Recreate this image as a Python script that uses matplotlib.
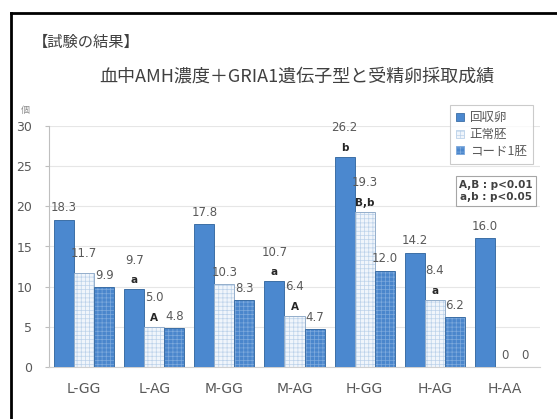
import matplotlib
matplotlib.use("Agg")
import matplotlib.pyplot as plt
from matplotlib.patches import Patch
from matplotlib.lines import Line2D
import numpy as np

# data
groups = ['L-GG', 'L-AG', 'M-GG', 'M-AG', 'H-GG', 'H-AG', 'H-AA']
series_names = ['回収卵', '正常胚', 'コード1胚']
recovered = [18.3, 9.7, 17.8, 10.7, 26.2, 14.2, 16.0]
normal = [11.7, 5.0, 10.3, 6.4, 19.3, 8.4, 0]
code1 = [9.9, 4.8, 8.3, 4.7, 12.0, 6.2, 0]
recovered_marks = ['', 'a', '', 'a', 'b', '', '']
normal_marks = ['', 'A', '', 'A', 'B,b', 'a', '']
code1_marks = ['', '', '', '', '', '', '']

jp = ['Noto Sans CJK JP', 'DejaVu Sans']
plt.rcParams['hatch.linewidth'] = 0.5

W, H = 557, 419
fig = plt.figure(figsize=(W / 100, H / 100), dpi=100)
ax = fig.add_axes([49 / W, 1 - 367 / H, (540 - 49) / W, (367 - 126) / H])

x = np.arange(len(groups))
bw = 0.286
styles = [
    dict(face='#4b88cf', hatch=None, hcol=None, edge='#3c6fa6'),
    dict(face='#f0f5fb', hatch='++++', hcol='#bcd2ea', edge='#94aecb'),
    dict(face='#4a86cc', hatch='++++', hcol='#7eaadd', edge='#3c6fa6'),
]
all_vals = [recovered, normal, code1]
all_marks = [recovered_marks, normal_marks, code1_marks]

for i, (vals, marks, st) in enumerate(zip(all_vals, all_marks, styles)):
    xs = x + (i - 1) * bw
    if st['hatch']:
        ax.bar(xs, vals, bw, color=st['face'], hatch=st['hatch'],
               edgecolor=st['hcol'], linewidth=0, zorder=2)
        ax.bar(xs, vals, bw, fill=False, edgecolor=st['edge'],
               linewidth=0.7, zorder=3)
    else:
        ax.bar(xs, vals, bw, color=st['face'], edgecolor=st['edge'],
               linewidth=0.7, zorder=3)
    for xi, v, m in zip(xs, vals, marks):
        lbl = '0' if v == 0 else f'{v:.1f}'
        lift = 12
        if m:
            ax.annotate(m, (xi, v), xytext=(0, 9), textcoords='offset pixels',
                        ha='center', va='center', fontsize=7.5,
                        fontweight='bold', color='#262626',
                        annotation_clip=False)
            lift = 29
        if i == 1 and v == 11.7:
            lift = 20
        ax.annotate(lbl, (xi, v), xytext=(0, lift), textcoords='offset pixels',
                    ha='center', va='center', fontsize=8.5, color='#595959',
                    annotation_clip=False)

ax.set_xlim(-0.5, len(groups) - 0.5)
ax.set_ylim(0, 30)
ax.set_yticks(range(0, 31, 5))
ax.set_xticks(x)
ax.set_xticklabels(groups)
ax.yaxis.grid(True, color='#e6e6e6', linewidth=0.8, zorder=0)
ax.set_axisbelow(True)
for s in ['top', 'right']:
    ax.spines[s].set_visible(False)
ax.spines['left'].set_color('#bfbfbf')
ax.spines['bottom'].set_color('#d0d0d0')
ax.tick_params(axis='y', length=3, color='#bfbfbf', labelsize=9,
               labelcolor='#595959', pad=9)
ax.tick_params(axis='x', length=0, labelsize=10, labelcolor='#595959', pad=11)

# legend
handles = [Patch(facecolor=st['face'], edgecolor=st['hcol'] or st['edge'],
                 hatch=st['hatch'], linewidth=0.6) for st in styles]
leg = fig.legend(handles, series_names, loc='upper right',
                 bbox_to_anchor=(533 / W, 1 - 105 / H),
                 frameon=True, fancybox=False, edgecolor='#bfbfbf',
                 prop={'family': jp, 'size': 9}, labelcolor='#595959',
                 handlelength=0.6, handleheight=0.6, handletextpad=0.5,
                 labelspacing=0.3, borderpad=0.5, borderaxespad=0)
leg.get_frame().set_linewidth(0.8)

fig.text(496 / W, 1 - 191 / H, 'A,B : p<0.01\na,b : p<0.05', ha='center',
         va='center', fontsize=7.5, fontweight='bold', color='#404040',
         linespacing=1.35,
         bbox=dict(boxstyle='square,pad=0.35', fc='white', ec='#a6a6a6', lw=0.8))

fig.text(33 / W, 1 - 42 / H, '【試験の結果】', family=jp, fontsize=11,
         color='#404040', ha='left', va='center')
fig.text(297 / W, 1 - 77 / H, '血中AMH濃度＋GRIA1遺伝子型と受精卵採取成績',
         family=jp, fontsize=13, color='#404040', ha='center', va='center')
fig.text(25 / W, 1 - 110 / H, '個', family=jp, fontsize=6.5, color='#8c8c8c',
         ha='center', va='center')

# black frame (left and top edges)
fig.add_artist(Line2D([11 / W, 11 / W], [0, 1 - 13 / H], color='black',
                      linewidth=2, transform=fig.transFigure))
fig.add_artist(Line2D([11 / W, 1], [1 - 13 / H, 1 - 13 / H], color='black',
                      linewidth=2, transform=fig.transFigure))

fig.savefig('out.png', dpi=100, facecolor='white')
